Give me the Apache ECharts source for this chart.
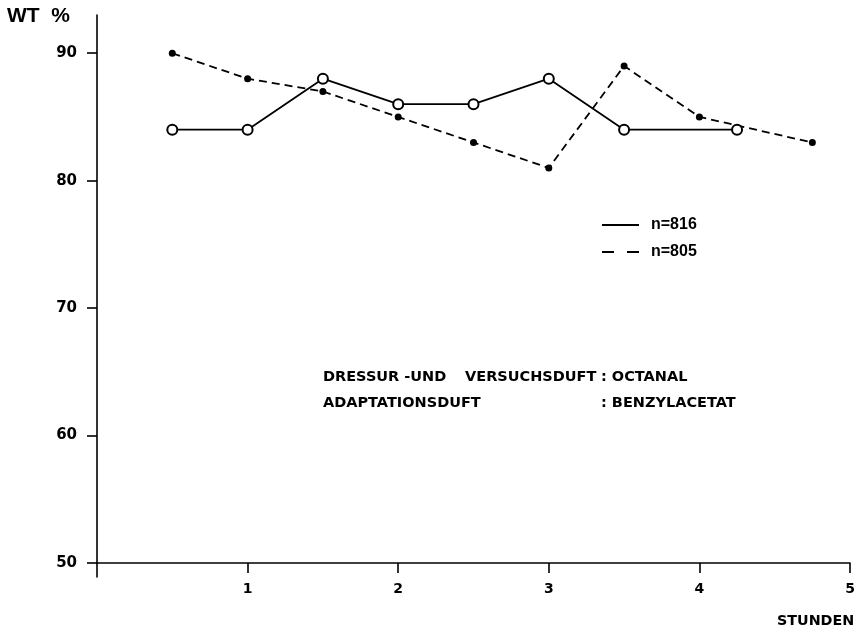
<!DOCTYPE html>
<html>
<head>
<meta charset="utf-8">
<script src="https://cdn.jsdelivr.net/npm/echarts@6/dist/echarts.min.js"></script>
<style>html,body{margin:0;padding:0;background:#fff}#c{width:859px;height:629px}</style>
</head>
<body>
<div id="c"></div>
<script>
// Data
const x816 = [0.5, 1, 1.5, 2, 2.5, 3, 3.5, 4.25];
const y816 = [84, 84, 88, 86, 86, 88, 84, 84];
const x805 = [0.5, 1, 1.5, 2, 2.5, 3, 3.5, 4, 4.75];
const y805 = [90, 88, 87, 85, 83, 81, 89, 85, 83];
const yTicks = [50, 60, 70, 80, 90];
const xTicks = [1, 2, 3, 4, 5];
const seriesNames = ['n=816', 'n=805'];

const FONT = '"Liberation Sans", Arial, sans-serif';
const DJ = '"DejaVu Sans", sans-serif';
const chart = echarts.init(document.getElementById('c'));
const pairs = (xs, ys) => xs.map((v, i) => [v, ys[i]]);
const txt = (x, y, text, size, family) => ({
  type: 'text', x: x, y: y,
  style: {text: text, fontSize: size, fontWeight: 'bold', fontFamily: family, fill: '#000', verticalAlign: 'middle'}
});

chart.setOption({
  animation: false,
  backgroundColor: '#fff',
  grid: [
    {left: 97, right: 9, top: 15, bottom: 66},
    {left: 97, right: 9, top: 563, height: 14}
  ],
  xAxis: [
    {
      gridIndex: 0, type: 'value', min: 0, max: 5, interval: 1,
      axisLine: {lineStyle: {color: '#000', width: 1.6}},
      axisTick: {customValues: xTicks, length: 10, lineStyle: {color: '#000', width: 1.6}},
      axisLabel: {customValues: xTicks, margin: 19, color: '#000', fontSize: 14, fontWeight: 'bold', fontFamily: DJ},
      splitLine: {show: false}
    },
    {gridIndex: 1, type: 'value', min: 0, max: 5, show: false}
  ],
  yAxis: [
    {
      gridIndex: 0, type: 'value', min: 50, max: 93, interval: 10,
      axisLine: {show: true, lineStyle: {color: '#000', width: 1.6}},
      axisTick: {show: true, customValues: yTicks, length: 10, lineStyle: {color: '#000', width: 1.6}},
      axisLabel: {customValues: yTicks, margin: 20, color: '#000', fontSize: 15, fontWeight: 'bold', fontFamily: DJ},
      splitLine: {show: false}
    },
    {
      gridIndex: 1, type: 'value', min: 0, max: 1,
      axisLine: {show: true, lineStyle: {color: '#000', width: 1.6}},
      axisTick: {show: false}, axisLabel: {show: false}, splitLine: {show: false}
    }
  ],
  series: [
    {
      name: seriesNames[0], type: 'line', xAxisIndex: 0, yAxisIndex: 0,
      data: pairs(x816, y816),
      symbol: 'circle', symbolSize: 10, z: 3,
      lineStyle: {color: '#000', width: 1.8, type: 'solid'},
      itemStyle: {color: '#fff', borderColor: '#000', borderWidth: 2}
    },
    {
      name: seriesNames[1], type: 'line', xAxisIndex: 0, yAxisIndex: 0,
      data: pairs(x805, y805),
      symbol: 'circle', symbolSize: 7, z: 2,
      lineStyle: {color: '#000', width: 1.8, type: [8, 5]},
      itemStyle: {color: '#000', borderWidth: 0}
    }
  ],
  graphic: [
    {type: 'text', left: 7, top: 6, style: {text: 'WT  %', fontSize: 21, fontWeight: 'bold', fontFamily: FONT, fill: '#000'}},
    txt(777, 621, 'STUNDEN', 14.3, DJ),
    {type: 'line', shape: {x1: 602, y1: 225, x2: 639, y2: 225}, style: {stroke: '#000', lineWidth: 1.8}},
    {type: 'line', shape: {x1: 602, y1: 252, x2: 639, y2: 252}, style: {stroke: '#000', lineWidth: 1.8, lineDash: [12, 13]}},
    txt(651, 225, seriesNames[0], 16, FONT),
    txt(651, 252, seriesNames[1], 16, FONT),
    txt(323, 377, 'DRESSUR -UND', 14.5, DJ),
    txt(465, 377, 'VERSUCHSDUFT', 14.5, DJ),
    txt(601, 377, ': OCTANAL', 14.5, DJ),
    txt(323, 403, 'ADAPTATIONSDUFT', 14.5, DJ),
    txt(601, 403, ': BENZYLACETAT', 14.5, DJ)
  ]
});
</script>
</body>
</html>
